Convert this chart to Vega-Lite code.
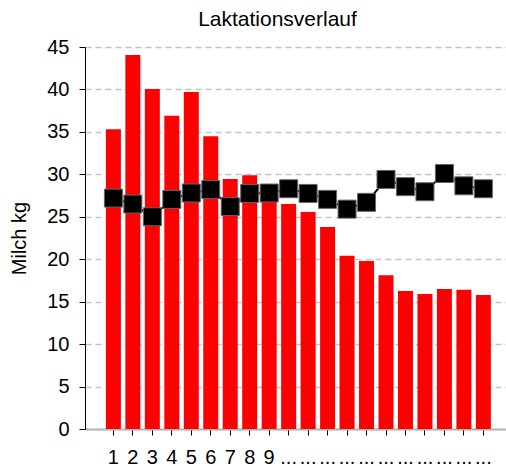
{
  "$schema": "https://vega.github.io/schema/vega-lite/v6.json",
  "width": 421,
  "height": 382,
  "autosize": {"type": "none"},
  "padding": {"left": 85, "top": 47, "right": 0, "bottom": 37},
  "background": "white",
  "config": {
    "font": "Liberation Sans",
    "view": {"stroke": null}
  },
  "title": {
    "text": "Laktationsverlauf",
    "font": "Liberation Sans",
    "fontSize": 21,
    "fontWeight": "normal",
    "color": "black",
    "anchor": "middle",
    "frame": "group",
    "dx": -18,
    "dy": 30,
    "baseline": "bottom",
    "offset": 16
  },
  "data": {
    "values": [
      {"t": 1, "milch": 35.3, "linie": 27.2},
      {"t": 2, "milch": 44.05, "linie": 26.5},
      {"t": 3, "milch": 40.05, "linie": 25.0},
      {"t": 4, "milch": 36.9, "linie": 27.05},
      {"t": 5, "milch": 39.7, "linie": 27.8},
      {"t": 6, "milch": 34.5, "linie": 28.2},
      {"t": 7, "milch": 29.45, "linie": 26.2},
      {"t": 8, "milch": 29.9, "linie": 27.75},
      {"t": 9, "milch": 27.2, "linie": 27.8},
      {"t": 10, "milch": 26.5, "linie": 28.3},
      {"t": 11, "milch": 25.55, "linie": 27.75},
      {"t": 12, "milch": 23.8, "linie": 27.05},
      {"t": 13, "milch": 20.4, "linie": 25.9},
      {"t": 14, "milch": 19.8, "linie": 26.7},
      {"t": 15, "milch": 18.1, "linie": 29.4},
      {"t": 16, "milch": 16.25, "linie": 28.55},
      {"t": 17, "milch": 15.9, "linie": 27.95},
      {"t": 18, "milch": 16.5, "linie": 30.1},
      {"t": 19, "milch": 16.4, "linie": 28.65},
      {"t": 20, "milch": 15.8, "linie": 28.3}
    ]
  },
  "encoding": {
    "x": {
      "field": "t",
      "type": "ordinal",
      "scale": {"paddingInner": 0.23, "paddingOuter": 0.925, "align": 0.58},
      "axis": {
        "title": null,
        "labelAngle": 0,
        "labelFontSize": 20,
        "labelColor": "black",
        "labelPadding": 12,
        "labelExpr": "datum.value <= 9 ? datum.label : '...'",
        "tickColor": "black",
        "tickSize": 6,
        "domainColor": "#b3b3b3",
        "domainWidth": 2,
        "grid": false
      }
    }
  },
  "layer": [
    {
      "mark": {"type": "bar", "color": "#ff0000"},
      "encoding": {
        "y": {
          "field": "milch",
          "type": "quantitative",
          "scale": {"domain": [0, 45], "nice": false},
          "axis": {
            "title": "Milch kg",
            "titleFontSize": 20,
            "titleFontWeight": "normal",
            "titleColor": "black",
            "titlePadding": 17,
            "values": [0, 5, 10, 15, 20, 25, 30, 35, 40, 45],
            "labelFontSize": 20,
            "labelColor": "black",
            "labelPadding": 10,
            "tickColor": "black",
            "tickSize": 6,
            "domainColor": "black",
            "domainWidth": 1,
            "grid": true,
            "gridColor": "#c4c4c4",
            "gridDash": [6, 4],
            "gridWidth": 1.5
          }
        }
      }
    },
    {
      "mark": {"type": "line", "color": "black", "strokeWidth": 2},
      "encoding": {
        "y": {"field": "linie", "type": "quantitative"}
      }
    },
    {
      "mark": {"type": "point", "shape": "square", "size": 324, "filled": true, "fill": "black", "stroke": "#666666", "strokeWidth": 1, "opacity": 1},
      "encoding": {
        "y": {"field": "linie", "type": "quantitative"}
      }
    }
  ]
}
